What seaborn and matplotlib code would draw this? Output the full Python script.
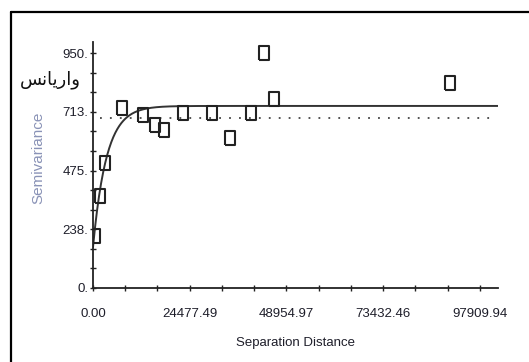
import numpy as np
import pandas as pd
import matplotlib
matplotlib.use("Agg")
import matplotlib.pyplot as plt
import seaborn as sns
from matplotlib.ticker import FixedLocator, MultipleLocator
from matplotlib.lines import Line2D

# semivariogram points (separation distance, semivariance)
lag_distance = [660, 1770, 2990, 7340, 12650, 15690, 17960, 22770,
                30100, 34660, 39970, 43260, 45790, 90320]
semivariance = [210, 372, 505, 728, 699, 659, 639, 707,
                707, 606, 707, 950, 764, 829]

# fitted exponential model
nugget = 165.0
sill = 736.0
range_param = 3400.0
sample_variance = 687.0

x_ticks = [0.0, 24477.49, 48954.97, 73432.46, 97909.94]
x_tick_labels = ["0.00", "24477.49", "48954.97", "73432.46", "97909.94"]
y_ticks = [0.0, 237.5, 475.0, 712.5, 950.0]
y_tick_labels = ["0.", "238.", "475.", "713.", "950."]

x_max = 102464
y_max = 994.5

sns.set_style("ticks")
plt.rcParams["font.family"] = ["Liberation Sans", "DejaVu Sans"]

fig = plt.figure(figsize=(5.29, 3.62), dpi=100)
ax = fig.add_axes([93 / 529, 1 - 288 / 362, 405 / 529, 246 / 362])

df = pd.DataFrame({"h": lag_distance, "g": semivariance})

# model curve
h = np.linspace(0, x_max, 800)
model = nugget + (sill - nugget) * (1 - np.exp(-h / range_param))
sns.lineplot(x=h, y=model, ax=ax, color="#333333", linewidth=1.4)

# sample variance line
ax.axhline(sample_variance, xmin=7 / 405, xmax=402 / 405, color="#444444",
           linewidth=1.3, linestyle=(0, (1, 4.5)))

rect = [(-0.7, -1), (0.7, -1), (0.7, 1), (-0.7, 1), (-0.7, -1)]
sns.scatterplot(data=df, x="h", y="g", ax=ax, marker=rect, s=100,
                facecolors="none", edgecolor="#222222", linewidth=1.5, zorder=5)

ax.set_xlim(0, x_max)
ax.set_ylim(0, y_max)
ax.xaxis.set_major_locator(FixedLocator(x_ticks))
ax.set_xticklabels(x_tick_labels)
ax.xaxis.set_minor_locator(MultipleLocator(x_ticks[-1] / 12))
ax.yaxis.set_major_locator(FixedLocator(y_ticks))
ax.set_yticklabels(y_tick_labels)
ax.yaxis.set_minor_locator(MultipleLocator(y_ticks[-1] / 12))

ax.tick_params(axis="both", which="both", direction="inout", length=5,
               width=1.0, color="#222222", labelsize=9.5, labelcolor="#1e1e2a")
ax.tick_params(axis="x", which="major", pad=12)
ax.tick_params(axis="y", which="major", pad=1)

sns.despine(ax=ax)
for sp in ["left", "bottom"]:
    ax.spines[sp].set_color("#222222")
    ax.spines[sp].set_linewidth(1.3)

ax.set_xlabel("Separation Distance", fontsize=9.5, color="#1e1e2a", labelpad=12)
ax.set_ylabel("")

# original (partly hidden) english y label and persian overlay
fig.text(38 / 529, 1 - 158 / 362, "Semivariance", rotation=90, ha="center",
         va="center", fontsize=11, color="#3b4a86", alpha=0.6)
fig.text(50 / 529, 1 - 80 / 362, "\uFEB2\uFEE7\uFE8E\uFBFE\uFEAD\uFE8D\uFEED",
         ha="center", va="center", fontsize=13, color="#111111",
         family=["DejaVu Sans"])

# outer frame
fig.add_artist(Line2D([10.5 / 529, 10.5 / 529], [0, 1 - 12 / 362],
                      transform=fig.transFigure, color="black", linewidth=1.6))
fig.add_artist(Line2D([10.5 / 529, 1], [1 - 12 / 362, 1 - 12 / 362],
                      transform=fig.transFigure, color="black", linewidth=1.6))

fig.savefig("out.png", dpi=100)
